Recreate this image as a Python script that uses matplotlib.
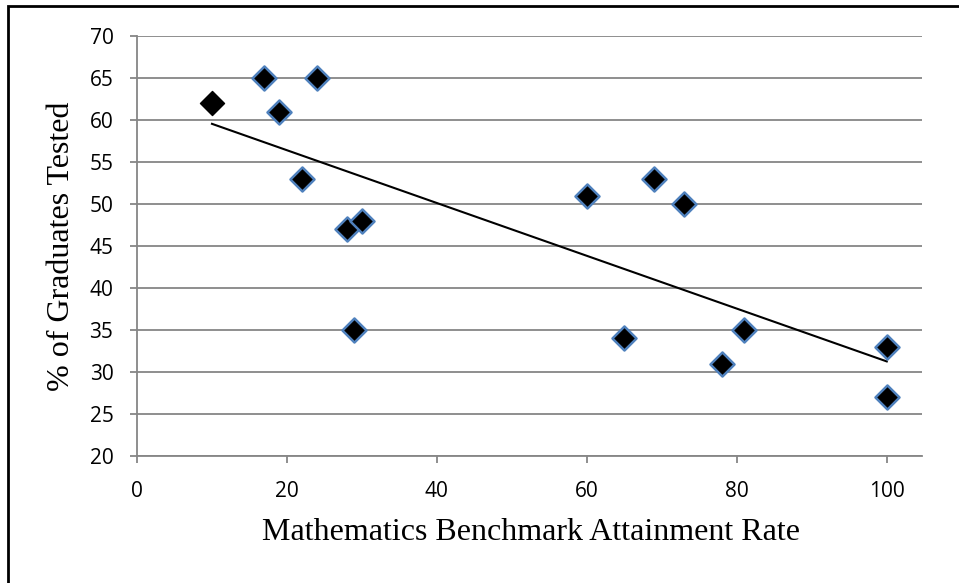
import numpy as np
import matplotlib
matplotlib.use("Agg")
import matplotlib.pyplot as plt
from matplotlib.patches import Rectangle

# Benchmark attainment rate (%) vs share of graduates tested (%)
attainment = [10, 17, 24, 19, 22, 28, 30, 29, 60, 69, 73, 65, 81, 78, 100, 100]
pct_tested = [62, 65, 65, 61, 53, 47, 48, 35, 51, 53, 50, 34, 35, 31, 33, 27]

x_ticks = [0, 20, 40, 60, 80, 100]
y_ticks = [20, 25, 30, 35, 40, 45, 50, 55, 60, 65, 70]

fig = plt.figure(figsize=(9.59, 5.83), dpi=100)
ax = fig.add_axes([137 / 959, 1 - 456 / 583, (922 - 137) / 959, (456 - 36) / 583])

grid_col = "#868686"
ax.set_xlim(0, 104.7)
ax.set_ylim(20, 70)
ax.set_xticks(x_ticks)
ax.set_yticks(y_ticks)
for y in y_ticks:
    ax.axhline(y, color=grid_col, lw=1.3, zorder=1)

for side in ("top", "right"):
    ax.spines[side].set_visible(False)
for side in ("left", "bottom"):
    ax.spines[side].set_color(grid_col)
    ax.spines[side].set_linewidth(1.3)
ax.tick_params(axis="both", direction="out", length=5, width=1.3, color=grid_col,
               labelsize=15)
ax.tick_params(axis="x", pad=13)
ax.tick_params(axis="y", pad=12)
for lbl in ax.get_xticklabels() + ax.get_yticklabels():
    lbl.set_family("Open Sans")

# Linear trendline over the data range
xs = np.array(attainment, dtype=float)
ys = np.array(pct_tested, dtype=float)
slope, intercept = np.polyfit(xs, ys, 1)
xl = np.array([xs.min(), xs.max()])
ax.plot(xl, slope * xl + intercept, color="black", lw=1.5, zorder=3)

ax.scatter(xs[1:], ys[1:], marker="D", s=150, facecolor="black",
           edgecolor="#4F81BD", linewidth=1.8, zorder=4, clip_on=False)
ax.scatter(xs[:1], ys[:1], marker="D", s=150, facecolor="black",
           edgecolor="black", linewidth=1.0, zorder=4, clip_on=False)

ax.set_xlabel("Mathematics Benchmark Attainment Rate", family="Liberation Serif",
              fontsize=23, va="center")
ax.set_ylabel("% of Graduates Tested", family="Liberation Serif",
              fontsize=23, va="center")
ax.xaxis.set_label_coords(0.502, (456 - 532) / 420)
ax.yaxis.set_label_coords((62 - 137) / 785, 0.5)

# Chart frame
fig.patches.append(Rectangle((8 / 959, -0.01), 1.0, 1 - 6 / 583 + 0.01,
                             transform=fig.transFigure, fill=False,
                             edgecolor="black", lw=2))

fig.savefig("out.png", dpi=100)
